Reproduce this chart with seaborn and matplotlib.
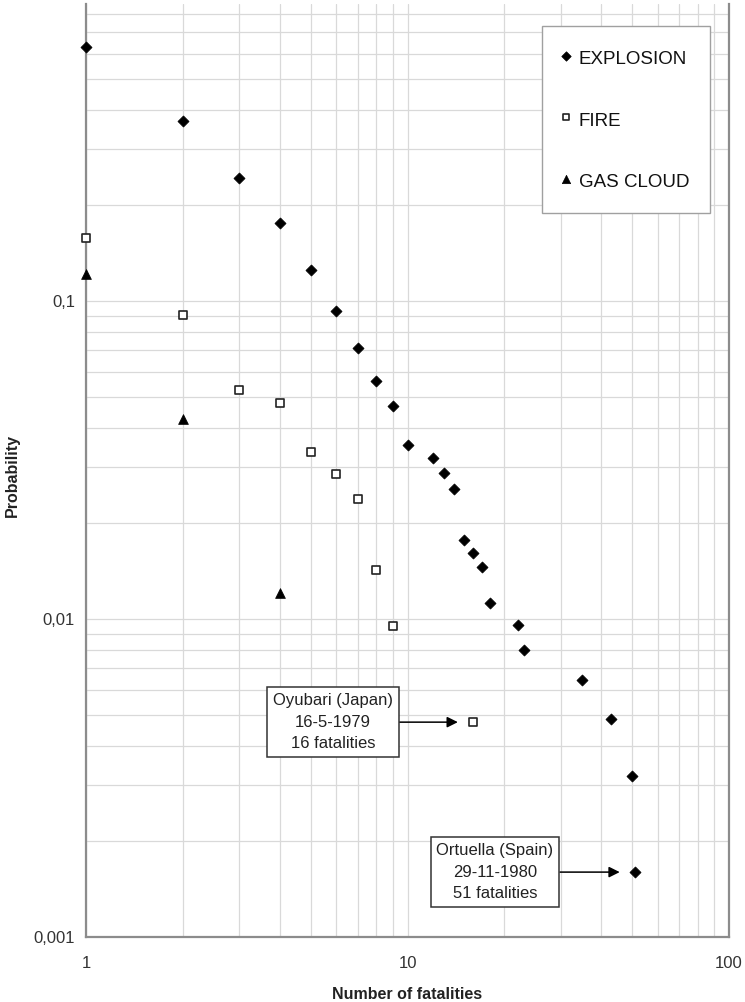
import matplotlib
matplotlib.use("Agg")
import matplotlib.pyplot as plt
import seaborn as sns
from matplotlib.ticker import FixedLocator, FixedFormatter, LogLocator, NullFormatter

# Probability of an accident with at least N fatalities, by accident type
expl_x = [1, 2, 3, 4, 5, 6, 7, 8, 9, 10, 12, 13, 14, 15, 16, 17, 18, 22, 23, 35, 43, 50, 51]
expl_y = [0.630, 0.368, 0.244, 0.176, 0.125, 0.093, 0.071, 0.056, 0.0468, 0.0352,
          0.0321, 0.0288, 0.0256, 0.0177, 0.0161, 0.0146, 0.0112, 0.00957, 0.00799,
          0.00643, 0.00485, 0.00321, 0.0016]

fire_x = [1, 2, 3, 4, 5, 6, 7, 8, 9, 16]
fire_y = [0.158, 0.0903, 0.0525, 0.0478, 0.0335, 0.0286, 0.0238, 0.01426, 0.0095, 0.00474]

gas_x = [1, 2, 4]
gas_y = [0.1217, 0.0425, 0.0121]

series_labels = ["EXPLOSION", "FIRE", "GAS CLOUD"]

x_ticks = [1, 10, 100]
x_tick_labels = ["1", "10", "100"]
y_ticks = [0.001, 0.01, 0.1]
y_tick_labels = ["0,001", "0,01", "0,1"]

fire_note = "Oyubari (Japan)\n16-5-1979\n16 fatalities"
expl_note = "Ortuella (Spain)\n29-11-1980\n51 fatalities"

sns.set_theme(style="white")
plt.rcParams["font.family"] = ["Liberation Sans", "DejaVu Sans"]

W, H = 745, 1002
fig = plt.figure(figsize=(W / 100, H / 100), dpi=100)
ax = fig.add_axes([86 / W, 65 / H, 643 / W, 933 / H])
ax.set_xscale("log")
ax.set_yscale("log")
ax.set_xlim(1, 100)
ax.set_ylim(0.001, 0.86)

sns.scatterplot(x=expl_x, y=expl_y, marker="D", s=32, color="black",
                edgecolor="black", linewidth=0.5, ax=ax, label=series_labels[0],
                clip_on=False, zorder=4)
sns.scatterplot(x=fire_x, y=fire_y, marker="s", s=34, facecolor="white",
                edgecolor="#222222", linewidth=1.2, ax=ax, label=series_labels[1],
                clip_on=False, zorder=4)
sns.scatterplot(x=gas_x, y=gas_y, marker="^", s=50, color="black",
                edgecolor="black", linewidth=0.5, ax=ax, label=series_labels[2],
                clip_on=False, zorder=4)

# grid on every decade subdivision
ax.xaxis.set_major_locator(FixedLocator(x_ticks))
ax.xaxis.set_major_formatter(FixedFormatter(x_tick_labels))
ax.yaxis.set_major_locator(FixedLocator(y_ticks))
ax.yaxis.set_major_formatter(FixedFormatter(y_tick_labels))
ax.xaxis.set_minor_locator(LogLocator(base=10, subs=range(2, 10)))
ax.yaxis.set_minor_locator(LogLocator(base=10, subs=range(2, 10)))
ax.xaxis.set_minor_formatter(NullFormatter())
ax.yaxis.set_minor_formatter(NullFormatter())
ax.grid(True, which="both", color="#d9d9d9", linewidth=0.9)
ax.set_axisbelow(True)

for side in ("left", "bottom", "right"):
    ax.spines[side].set_color("#8c8c8c")
    ax.spines[side].set_linewidth(1.6)
ax.spines["top"].set_visible(False)

ax.tick_params(which="major", length=4, width=1, color="#8c8c8c",
               labelcolor="#333333", labelsize=12)
ax.tick_params(axis="x", which="major", pad=9.5)
ax.tick_params(axis="y", which="major", pad=4)
ax.tick_params(which="minor", length=0)

ax.set_xlabel("Number of fatalities", fontsize=11.5, fontweight="bold",
              color="#222222", labelpad=12)
ax.set_ylabel("Probability", fontsize=11.5, fontweight="bold", color="#222222")
ax.yaxis.set_label_coords((20 - 86) / 643, 0.495)

handles, labels = ax.get_legend_handles_labels()
leg = ax.legend(handles, labels, loc="upper left",
                bbox_to_anchor=((542 - 86) / 643, (937 - 26) / 933),
                borderaxespad=0, frameon=True, fancybox=False, framealpha=1,
                edgecolor="#a0a0a0", fontsize=13.5, handlelength=0.4,
                handleheight=1.5, handletextpad=0.45, labelspacing=2.06,
                borderpad=1.1, markerscale=0.85)
leg.get_frame().set_linewidth(1.0)
for t in leg.get_texts():
    t.set_color("#111111")

box_style = dict(boxstyle="square,pad=0.35", fc="white", ec="#333333", lw=1.1)
arrow_style = dict(arrowstyle="-|>", color="black", lw=1.1, shrinkA=0,
                   shrinkB=11, mutation_scale=16)
ax.annotate(fire_note, xy=(fire_x[-1], fire_y[-1]), xytext=(-140, 0),
            textcoords="offset pixels", ha="center", va="center", fontsize=12,
            linespacing=1.55, color="#222222", bbox=box_style,
            arrowprops=arrow_style, zorder=5)
ax.annotate(expl_note, xy=(expl_x[-1], expl_y[-1]), xytext=(-140, 0),
            textcoords="offset pixels", ha="center", va="center", fontsize=12,
            linespacing=1.55, color="#222222", bbox=box_style,
            arrowprops=arrow_style, zorder=5)

fig.savefig("out.png", dpi=100, facecolor="white")
